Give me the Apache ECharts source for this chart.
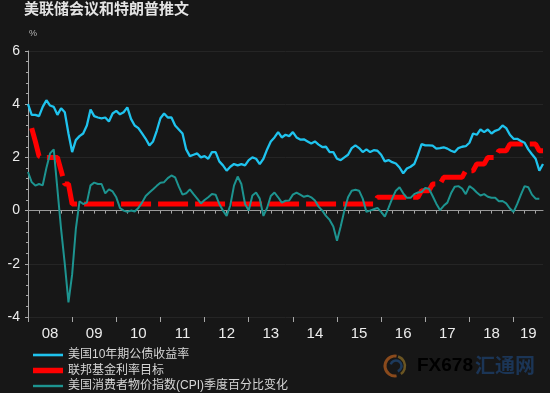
<!DOCTYPE html>
<html>
<head>
<meta charset="utf-8">
<script src="https://cdn.jsdelivr.net/npm/echarts@6/dist/echarts.min.js"></script>
<style>
html,body{margin:0;padding:0;background:#171717;}
#main{width:550px;height:393px;}
</style>
</head>
<body>
<div id="main"></div>
<script>
// ---------- DATA (monthly, Jan 2008 .. Sep 2019) ----------
var years = ['2008','2009','2010','2011','2012','2013','2014','2015','2016','2017','2018','2019'];
var yearLabels = ['08','09','10','11','12','13','14','15','16','17','18','19'];
var yTicks = [-4,-2,0,2,4,6];

var seriesNames = ['美国10年期公债收益率','联邦基金利率目标','美国消费者物价指数(CPI)季度百分比变化'];

// US 10-year Treasury yield (%)
var yield2008 = [4.0,3.6,3.6,3.55,3.9,4.15,3.95,3.9,3.6,3.85,3.7,2.9];
var yield2009 = [2.2,2.65,2.8,2.9,3.2,3.8,3.55,3.5,3.47,3.5,3.35,3.65];
var yield2010 = [3.75,3.62,3.7,3.88,3.45,3.2,3.1,2.9,2.7,2.45,2.6,3.0];
var yield2011 = [3.47,3.65,3.5,3.5,3.2,3.05,2.9,2.3,2.05,2.1,2.15,2.0];
var yield2012 = [2.05,1.95,2.2,2.2,1.85,1.7,1.5,1.65,1.75,1.7,1.75,1.7];
var yield2013 = [1.9,2.0,1.95,1.75,1.95,2.3,2.6,2.75,2.95,2.75,2.85,2.8];
var yield2014 = [2.95,2.75,2.67,2.68,2.6,2.52,2.6,2.48,2.39,2.4,2.2,2.2];
var yield2015 = [1.95,1.9,2.0,2.1,2.35,2.45,2.35,2.2,2.3,2.2,2.27,2.25];
var yield2016 = [2.1,1.85,1.9,1.82,1.77,1.62,1.4,1.58,1.65,1.75,2.1,2.5];
var yield2017 = [2.45,2.45,2.44,2.33,2.35,2.38,2.33,2.25,2.2,2.35,2.4,2.42];
var yield2018 = [2.55,2.9,2.85,3.05,2.95,3.05,2.9,3.0,3.05,3.2,3.1,2.85];
var yield2019 = [2.7,2.7,2.62,2.55,2.3,2.12,1.95,1.5,1.75];

// Fed funds target rate (%)
var fed2008 = [null,3.1,2.6,2.05,2.0,2.0,2.0,2.0,2.0,1.5,1.0,1.0];
var fed2009 = [0.25,0.25,0.25,0.25,0.25,0.25,0.25,0.25,0.25,0.25,0.25,0.25];
var fed2010 = [0.25,0.25,0.25,0.25,0.25,0.25,0.25,0.25,0.25,0.25,0.25,0.25];
var fed2011 = [0.25,0.25,0.25,0.25,0.25,0.25,0.25,0.25,0.25,0.25,0.25,0.25];
var fed2012 = [0.25,0.25,0.25,0.25,0.25,0.25,0.25,0.25,0.25,0.25,0.25,0.25];
var fed2013 = [0.25,0.25,0.25,0.25,0.25,0.25,0.25,0.25,0.25,0.25,0.25,0.25];
var fed2014 = [0.25,0.25,0.25,0.25,0.25,0.25,0.25,0.25,0.25,0.25,0.25,0.25];
var fed2015 = [0.25,0.25,0.25,0.25,0.25,0.25,0.25,0.25,0.25,0.25,0.25,0.5];
var fed2016 = [0.5,0.5,0.5,0.5,0.5,0.5,0.5,0.5,0.5,0.5,0.5,0.75];
var fed2017 = [0.75,0.75,1.0,1.0,1.0,1.25,1.25,1.25,1.25,1.25,1.25,1.5];
var fed2018 = [1.5,1.5,1.75,1.75,1.75,2.0,2.0,2.0,2.25,2.25,2.25,2.5];
var fed2019 = [2.5,2.5,2.5,2.5,2.5,2.5,2.5,2.25,2.25];

// US CPI quarterly % change
var cpi2008 = [1.45,1.07,0.94,1.0,0.95,1.6,2.15,2.3,0.8,-0.7,-2.0,-3.45];
var cpi2009 = [-2.4,-0.7,0.35,0.25,0.3,0.95,1.05,1.0,1.0,0.65,0.8,0.72];
var cpi2010 = [0.5,0.1,0.0,-0.05,0.0,-0.03,0.1,0.3,0.55,0.68,0.8,0.93];
var cpi2011 = [1.05,1.07,1.22,1.32,1.25,0.9,0.6,0.65,0.8,0.62,0.45,0.27];
var cpi2012 = [0.4,0.5,0.62,0.6,0.25,0.0,-0.2,0.2,0.94,1.28,1.0,0.25];
var cpi2013 = [0.0,0.57,0.68,0.45,-0.2,0.1,0.55,0.68,0.5,0.3,0.37,0.38];
var cpi2014 = [0.6,0.68,0.6,0.52,0.56,0.5,0.38,0.15,0.0,-0.2,-0.35,-0.6];
var cpi2015 = [-1.13,-0.6,0.0,0.5,0.75,0.78,0.75,0.45,-0.05,0.0,0.05,0.1];
var cpi2016 = [-0.05,-0.23,0.1,0.45,0.75,0.88,0.65,0.48,0.48,0.62,0.68,0.7];
var cpi2017 = [0.85,0.82,0.55,0.26,0.02,0.18,0.3,0.65,0.9,0.92,0.83,0.62];
var cpi2018 = [0.92,0.82,0.68,0.57,0.62,0.52,0.48,0.48,0.35,0.36,0.27,0.08];
var cpi2019 = [-0.05,0.25,0.6,0.92,0.88,0.6,0.45,0.45,null];

// ---------- BUILD ----------
var yieldData = [].concat(yield2008,yield2009,yield2010,yield2011,yield2012,yield2013,yield2014,yield2015,yield2016,yield2017,yield2018,yield2019);
var fedData = [].concat(fed2008,fed2009,fed2010,fed2011,fed2012,fed2013,fed2014,fed2015,fed2016,fed2017,fed2018,fed2019);
var cpiData = [].concat(cpi2008,cpi2009,cpi2010,cpi2011,cpi2012,cpi2013,cpi2014,cpi2015,cpi2016,cpi2017,cpi2018,cpi2019);

var months = [];
for (var i = 0; i < yieldData.length; i++) {
  var y = years[Math.floor(i / 12)];
  var m = (i % 12) + 1;
  months.push(y + '-' + (m < 10 ? '0' + m : '' + m));
}
var lastIdx = months.length - 1;
// label position: middle of each (visible) year
function isLabelIdx(i) {
  var yi = Math.floor(i / 12);
  var start = yi * 12;
  var end = Math.min(start + 12, lastIdx);
  return i === Math.round((start + end) / 2);
}

var CJK = "'Noto Sans CJK SC', sans-serif";
var LAT = "'Liberation Sans', 'Noto Sans CJK SC', sans-serif";
var axisGray = '#a8a8a8';
var BLUE = '#1fc3ee', RED = '#ff0000', TEAL = '#1d9490';

var chart = echarts.init(document.getElementById('main'), null, {renderer: 'canvas'});
chart.setOption({
  backgroundColor: '#171717',
  animation: false,
  title: {
    text: '美联储会议和特朗普推文',
    left: 24, top: 1, padding: 0,
    textStyle: {color: '#e4e4e4', fontSize: 15, fontWeight: 'bold', fontFamily: CJK}
  },
  grid: {left: 28, right: 7, top: 51, bottom: 76, containLabel: false},
  legend: {
    orient: 'vertical', left: 33, top: 349, padding: 0,
    itemWidth: 30, itemHeight: 12, itemGap: 3.5,
    selectedMode: false,
    textStyle: {color: '#d6d6d6', fontSize: 12, fontFamily: LAT},
    data: [
      {name: seriesNames[0], icon: 'path://M0,0 L30,0 L30,2.6 L0,2.6 Z', itemStyle: {color: BLUE}},
      {name: seriesNames[1], icon: 'path://M0,0 L30,0 L30,5.5 L0,5.5 Z', itemStyle: {color: RED}},
      {name: seriesNames[2], icon: 'path://M0,0 L30,0 L30,2.4 L0,2.4 Z', itemStyle: {color: TEAL}}
    ]
  },
  xAxis: [{
    type: 'category', data: months, boundaryGap: false,
    axisLine: {show: true, lineStyle: {color: axisGray, width: 1}},
    axisTick: {show: true, length: 3, interval: function (i) { return i % 3 === 0; }, lineStyle: {color: axisGray}},
    axisLabel: {
      interval: function (i) { return isLabelIdx(i); },
      formatter: function (v) { return yearLabels[years.indexOf(v.slice(0, 4))]; },
      color: '#ececec', fontSize: 15, fontFamily: LAT, margin: 9
    },
    splitLine: {show: false}
  }, {
    type: 'category', data: months, boundaryGap: false, position: 'bottom',
    axisLine: {show: false},
    axisTick: {show: true, length: 5, interval: function (i) { return i % 12 === 0; }, lineStyle: {color: axisGray}},
    axisLabel: {show: false},
    splitLine: {show: false}
  }],
  yAxis: {
    type: 'value', min: yTicks[0], max: yTicks[yTicks.length - 1], interval: 2,
    axisLine: {show: true, lineStyle: {color: axisGray, width: 1}},
    axisTick: {show: true, length: 3, lineStyle: {color: axisGray}},
    minorTick: {show: true, splitNumber: 5, length: 2, lineStyle: {color: axisGray}},
    axisLabel: {color: '#ececec', fontSize: 14, fontFamily: LAT, margin: 8},
    splitLine: {show: true, lineStyle: {color: '#252525', width: 1}}
  },
  graphic: [
    {type: 'text', left: 29, top: 29, style: {text: '%', fill: '#b8b8b8', font: '9px ' + LAT}},
    {type: 'arc', shape: {cx: 395, cy: 366, r: 10, startAngle: Math.PI * 0.45, endAngle: Math.PI * 1.55}, style: {stroke: '#8a4a1c', lineWidth: 3, fill: null}},
    {type: 'arc', shape: {cx: 395, cy: 366, r: 10, startAngle: Math.PI * 1.6, endAngle: Math.PI * 2.3}, style: {stroke: '#6b5522', lineWidth: 2.5, fill: null}},
    {type: 'arc', shape: {cx: 396, cy: 366, r: 5.5, startAngle: Math.PI * 1.1, endAngle: Math.PI * 2.4}, style: {stroke: '#1d3a5c', lineWidth: 2.5, fill: null}},
    {type: 'text', left: 417, top: 356, style: {
      text: 'FX678', font: 'bold 19px ' + LAT,
      fill: {type: 'linear', x: 0, y: 0, x2: 1, y2: 0, colorStops: [{offset: 0, color: '#7d5d2a'}, {offset: 1, color: '#7a3318'}]}
    }},
    {type: 'text', left: 475, top: 355, style: {text: '汇通网', font: 'bold 20px ' + CJK, fill: '#1b3556'}}
  ],
  series: [{
    name: seriesNames[1], type: 'line', data: fedData, xAxisIndex: 0,
    symbol: 'none', connectNulls: false, z: 2,
    lineStyle: {color: RED, width: 5, type: [30, 7], cap: 'butt'},
    itemStyle: {color: RED},
    markLine: {
      silent: true, symbol: ['none', 'none'], label: {show: false},
      lineStyle: {color: '#9a9a9a', width: 1, type: 'solid'},
      data: [{yAxis: 0}], z: 1
    }
  }, {
    name: seriesNames[2], type: 'line', data: cpiData, xAxisIndex: 0,
    symbol: 'none', z: 3,
    lineStyle: {color: TEAL, width: 2},
    itemStyle: {color: TEAL}
  }, {
    name: seriesNames[0], type: 'line', data: yieldData, xAxisIndex: 0,
    symbol: 'none', z: 4,
    lineStyle: {color: BLUE, width: 2.3},
    itemStyle: {color: BLUE}
  }]
});
</script>
</body>
</html>
